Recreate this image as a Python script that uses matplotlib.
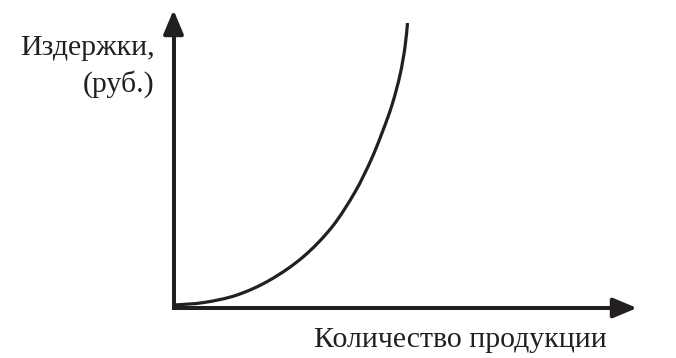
import matplotlib
matplotlib.use("Agg")
import matplotlib.pyplot as plt
from matplotlib.path import Path
from matplotlib.patches import PathPatch

# Curve values (output quantity vs costs)
quantity = [0, 30, 63, 96, 129, 158, 181, 197, 208, 218, 226, 231, 233.5]
costs = [0, 2.5, 10, 25, 48, 78, 113, 145, 172, 200, 230, 258, 282]

y_label_lines = ["Издержки,", "(руб.)"]
x_label = "Количество продукции"

INK = "#231f20"
plt.rcParams['font.family'] = ['Liberation Serif', 'DejaVu Serif']

fig = plt.figure(figsize=(6.76, 3.58), dpi=100)
ax = fig.add_axes([0, 0, 1, 1])
ax.set_xlim(-174, 502)
ax.set_ylim(-53, 305)
ax.axis('off')

AXW = 2.9
# axes as one L-shaped line with a square corner
ax.plot([-0.5, -0.5, 450], [280, -3, -3], color=INK, lw=AXW,
        solid_joinstyle='miter', solid_capstyle='butt')
arrow = dict(arrowstyle='-|>,head_length=1.0,head_width=0.42', lw=AXW,
             color=INK, mutation_scale=14.4, shrinkA=0, shrinkB=0)
ax.annotate('', xy=(463, -3), xytext=(440, -3), arrowprops=arrow)
ax.annotate('', xy=(-0.5, 295), xytext=(-0.5, 272), arrowprops=arrow)

# smooth curve through the read points (Catmull-Rom drawn as Bezier segments)
pts = list(zip(quantity, costs))
verts = [pts[0]]
codes = [Path.MOVETO]
n = len(pts)
for i in range(n - 1):
    p0 = pts[max(i - 1, 0)]
    p1 = pts[i]
    p2 = pts[i + 1]
    p3 = pts[min(i + 2, n - 1)]
    c1 = (p1[0] + (p2[0] - p0[0]) / 6, p1[1] + (p2[1] - p0[1]) / 6)
    c2 = (p2[0] - (p3[0] - p1[0]) / 6, p2[1] - (p3[1] - p1[1]) / 6)
    verts += [c1, c2, p2]
    codes += [Path.CURVE4] * 3
ax.add_patch(PathPatch(Path(verts, codes), facecolor='none', edgecolor=INK,
                       lw=2.3, capstyle='butt'))

fs = 21.5
ax.text(-19, 250, y_label_lines[0], ha='right', va='baseline', fontsize=fs, color=INK)
ax.text(-19, 213, y_label_lines[1], ha='right', va='baseline', fontsize=fs, color=INK)
ax.text(433, -42, x_label, ha='right', va='baseline', fontsize=fs, color=INK)

fig.savefig("out.png", dpi=100)
